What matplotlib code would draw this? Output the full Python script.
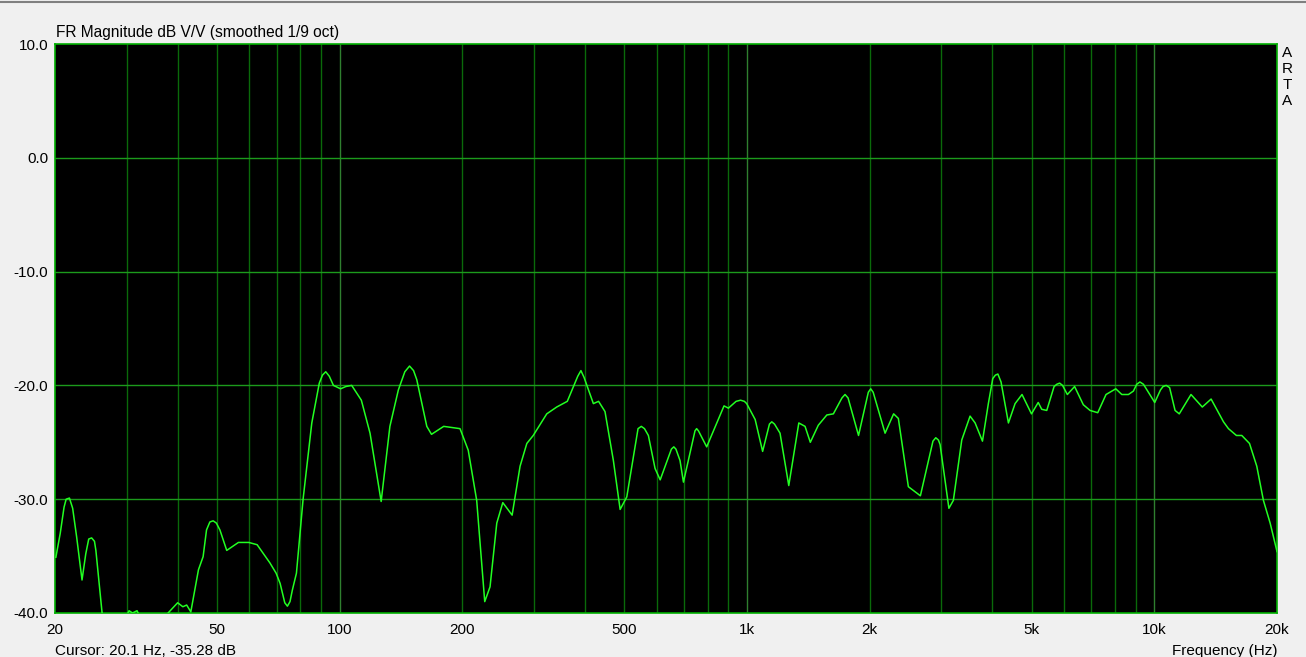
import numpy as np
import matplotlib
matplotlib.use("Agg")
import matplotlib.pyplot as plt

plt.rcParams['font.family'] = ['Liberation Sans', 'DejaVu Sans']

# frequency response (Hz, dB)
freq_hz = [20.1, 20.6, 21.05, 21.3, 21.7, 22.1, 22.6, 23.3, 23.8, 24.2, 24.6, 25.0, 25.2, 26.1,
           26.8, 28.0, 29.4, 29.9, 30.4, 31.0, 31.8, 32.4, 33.5, 35.5, 37.9,
           40.0, 41.2, 42.1, 43.1, 45.0, 46.2, 47.1, 48.0, 48.9, 49.8, 50.8, 52.8, 56.4,
           59.8, 62.7, 67.4, 69.8, 71.4, 73.3, 74.4, 75.5, 76.5, 78.3, 81.3, 85.4, 89.1,
           90.7, 92.4, 94.3, 96.5, 100.5, 103.5, 107, 113, 118.7, 126.4, 132.8, 139.3,
           144.5, 148.4, 151.8,
           154.6, 163.6, 168, 180, 197.4, 206.8, 216.9, 227, 233.9, 243,
           251.4, 265, 277.2, 288, 298.6, 322.3, 341, 362, 384, 391, 398, 419.5, 432,
           448, 469.7, 488, 506.7, 540, 550, 560, 572.5, 594.5, 612, 652, 661, 669, 684.6, 698,
           745, 752, 760, 796, 878, 900, 940, 964, 985, 998, 1047, 1092, 1135, 1150, 1168,
           1205, 1266, 1340,
           1388, 1430, 1496, 1570, 1629, 1710, 1740, 1770, 1878, 1985, 2012, 2040, 2182,
           2290, 2352,
           2489, 2664, 2860, 2906, 2950, 2978, 3130, 3210, 3366, 3528, 3630, 3784, 3912,
           4011, 4070, 4128, 4203, 4382, 4550, 4732, 4992, 5186, 5290, 5442, 5672,
           5760, 5854, 5950, 6114, 6370, 6692, 6952, 7260, 7608, 8040, 8318, 8636, 8882,
           9050, 9214, 9400, 9666, 10020, 10350, 10500, 10690, 10900, 11240, 11510, 12300,
           13110, 13780,
           14780, 15200, 15900, 16390, 17120, 17840, 18520, 19240, 20000]
level_db = [-35.1, -33.0, -30.7, -30.0, -29.9, -30.8, -33.3, -37.1, -34.8, -33.5, -33.4, -33.7, -34.5, -40.0,
            -42.0, -43.0, -41.0, -40.3, -39.8, -40.0, -39.8, -40.4, -41.5, -42.0, -40.0,
            -39.1, -39.45, -39.3, -39.9, -36.2, -35.05, -32.7, -32.0, -31.9, -32.1, -32.7, -34.5, -33.8,
            -33.8, -34.0, -35.6, -36.5, -37.4, -39.1, -39.4, -39.0, -38.0, -36.5, -30.0, -23.3, -19.8,
            -19.1, -18.8, -19.2, -20.0, -20.3, -20.1, -20.0, -21.3, -24.2, -30.2, -23.6, -20.4,
            -18.8, -18.3, -18.7,
            -19.5, -23.6, -24.3, -23.6, -23.8, -25.7, -30.1, -39.0, -37.7, -32.1,
            -30.3, -31.4, -27.1, -25.1, -24.4, -22.5, -21.9, -21.4, -19.2, -18.7, -19.3, -21.6, -21.4,
            -22.3, -26.6, -30.9, -29.8, -23.8, -23.6, -23.8, -24.4, -27.3, -28.3, -25.6, -25.4, -25.6, -26.6, -28.5,
            -24.0, -23.8, -24.0, -25.4, -21.8, -22.0, -21.4, -21.3, -21.4, -21.6, -23.0, -25.8, -23.4, -23.2, -23.4,
            -24.2, -28.8, -23.3,
            -23.6, -25.0, -23.5, -22.6, -22.5, -21.1, -20.8, -21.1, -24.4, -20.6, -20.3, -20.6, -24.2,
            -22.5, -22.9,
            -28.9, -29.7, -24.9, -24.6, -24.8, -25.2, -30.8, -30.1, -24.8, -22.7, -23.3, -24.9, -21.6,
            -19.4, -19.1, -19.0, -19.7, -23.3, -21.6, -20.8, -22.5, -21.5, -22.1, -22.2, -20.1,
            -19.9, -19.8, -20.0, -20.8, -20.1, -21.7, -22.2, -22.4, -20.8, -20.3, -20.8, -20.8, -20.5,
            -19.9, -19.7, -19.9, -20.6, -21.5, -20.4, -20.1, -20.0, -20.2, -22.2, -22.5, -20.8,
            -21.9, -21.2,
            -23.2, -23.8, -24.4, -24.4, -25.1, -27.1, -30.1, -32.1, -34.6]

x_ticks = [20, 50, 100, 200, 500, 1000, 2000, 5000, 10000, 20000]
x_tick_labels = ['20', '50', '100', '200', '500', '1k', '2k', '5k', '10k', '20k']
y_ticks = [10, 0, -10, -20, -30, -40]

fig = plt.figure(figsize=(13.06, 6.57), dpi=100, facecolor='#f0f0f0')
ax = fig.add_axes([55 / 1306, 44 / 657, 1222 / 1306, 569 / 657])
ax.set_facecolor('black')
ax.set_xscale('log')
ax.set_xlim(20, 20000)
ax.set_ylim(-40, 10)

# vertical grid: minor lines at 2..9 of each decade, decade lines a bit greyer
for dec in [10, 100, 1000, 10000]:
    for m in range(1, 10):
        f = dec * m
        if f <= 20 or f >= 20000:
            continue
        col = '#2f7f2f' if m == 1 else '#0a6a0a'
        ax.axvline(f, color=col, lw=1.0, zorder=1)
for yv in [0, -10, -20, -30]:
    ax.axhline(yv, color='#1c9a1c', lw=1.0, zorder=1)

ax.plot(freq_hz, level_db, color='#22ff22', lw=1.1, zorder=3)

for s in ax.spines.values():
    s.set_color('#00b000')
    s.set_linewidth(1.2)

ax.set_xticks(x_ticks)
ax.set_xticklabels(x_tick_labels)
ax.xaxis.set_minor_locator(matplotlib.ticker.NullLocator())
ax.set_yticks(y_ticks)
ax.set_yticklabels(['%.1f' % v for v in y_ticks])
ax.tick_params(length=0, labelsize=11, colors='black', pad=5)
ax.tick_params(axis='x', pad=7)

fig.text(56 / 1306, 1 - 32 / 657, 'FR Magnitude dB V/V (smoothed 1/9 oct)',
         fontsize=11.2, va='center', ha='left')
for i, ch in enumerate('ARTA'):
    fig.text(1287 / 1306, 1 - (53 + i * 16) / 657, ch, fontsize=11,
             ha='center', va='center')
fig.text(55 / 1306, 1 - 651 / 657, 'Cursor: 20.1 Hz, -35.28 dB', fontsize=11,
         va='center', ha='left')
fig.text(1277 / 1306, 1 - 651 / 657, 'Frequency (Hz)', fontsize=11,
         va='center', ha='right')

fig.add_artist(plt.Line2D([0, 1], [1 - 1.5 / 657, 1 - 1.5 / 657], color='#808080',
                          lw=1.5, transform=fig.transFigure))

fig.savefig('out.png', dpi=100, facecolor=fig.get_facecolor())
